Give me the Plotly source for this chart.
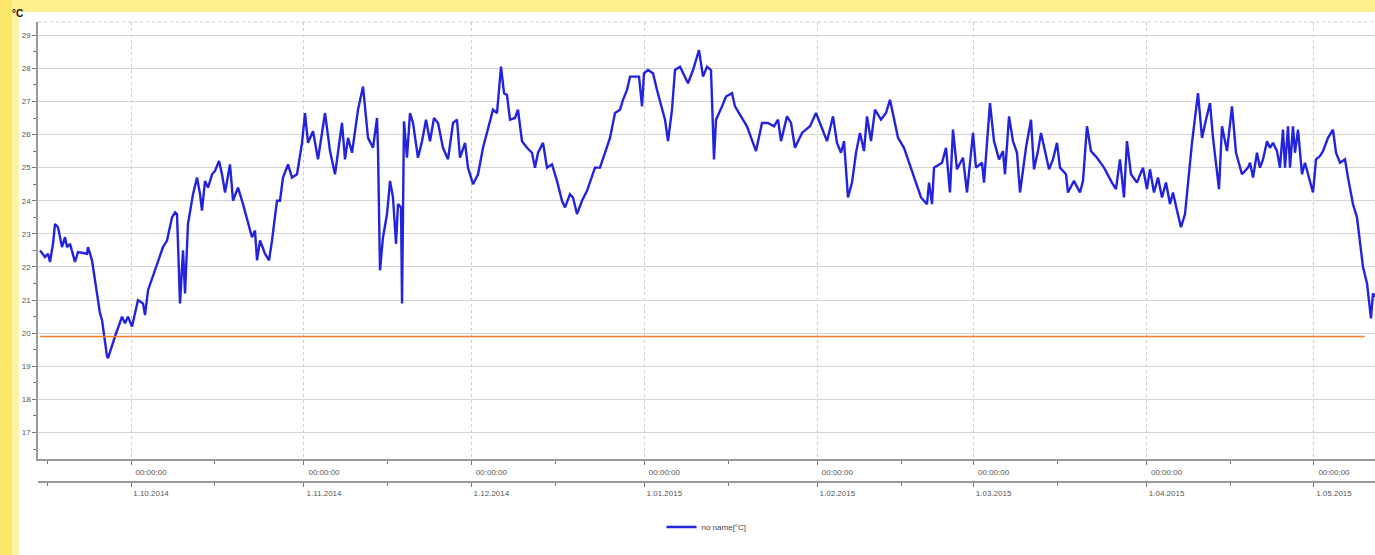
import pandas as pd
import plotly.graph_objects as go

# ---- data ----
base_date = "2014-10-01"
# elapsed days relative to 1 Oct 2014
day_offset = [
    -16.31, -15.41, -14.87, -14.52, -13.98, -13.62, -13.08, -12.37, -11.83, -11.47,
    -10.93, -10.04, -9.50, -7.89, -7.71, -6.99, -5.56, -5.20, -4.30, -4.12,
    -2.87, -1.61, -1.08, -0.54, 0.18, 1.25, 2.15, 2.51, 3.05, 4.66,
    5.73, 6.45, 7.35, 7.89, 8.24, 8.78, 9.32, 9.68, 10.21, 11.11,
    11.83, 12.37, 12.72, 13.26, 13.80, 14.52, 15.05, 15.77, 16.31, 16.85,
    17.74, 18.28, 19.18, 20.07, 20.97, 21.68, 22.22, 22.58, 23.12, 24.01,
    24.73, 25.27, 26.16, 26.70, 27.24, 28.14, 28.85, 29.75, 30.65, 31.18,
    31.72, 32.62, 33.51, 34.23, 34.77, 35.66, 36.56, 37.81, 38.35, 38.89,
    39.61, 40.68, 41.58, 42.47, 43.37, 44.09, 44.27, 44.62, 45.16, 45.88,
    46.42, 46.95, 47.49, 47.85, 48.39, 48.57, 48.92, 49.46, 50.00, 50.54,
    51.43, 52.15, 52.87, 53.58, 54.30, 55.02, 55.91, 56.81, 57.71, 58.42,
    58.96, 59.86, 60.39, 61.29, 62.19, 63.08, 63.98, 64.87, 65.59, 66.31,
    66.85, 67.38, 67.92, 68.82, 69.35, 70.07, 70.97, 71.86, 72.40, 72.94,
    73.84, 74.55, 75.45, 76.34, 77.24, 77.78, 78.67, 79.21, 79.93, 80.82,
    81.72, 83.15, 84.05, 84.95, 85.84, 86.74, 87.63, 88.17, 88.89, 89.43,
    90.32, 91.04, 91.58, 91.93, 92.65, 93.55, 94.26, 95.16, 95.70, 96.24,
    96.95, 97.49, 98.39, 99.82, 100.72, 101.79, 102.51, 103.23, 103.94, 104.48,
    104.84, 105.91, 106.63, 107.71, 108.24, 109.32, 110.39, 111.47, 112.01, 113.08,
    114.16, 115.23, 115.95, 116.49, 117.56, 118.28, 118.99, 120.25, 121.68, 122.76,
    123.66, 124.73, 125.81, 126.52, 127.24, 127.78, 128.49, 129.21, 129.93, 130.64,
    131.36, 131.90, 132.62, 133.33, 134.41, 135.30, 136.02, 136.74, 137.46, 138.53,
    139.43, 140.50, 141.58, 142.65, 143.01, 143.55, 143.91, 145.34, 146.06, 146.77,
    147.31, 148.03, 149.10, 149.82, 150.90, 151.43, 152.51, 152.87, 153.94, 154.66,
    155.56, 156.27, 156.63, 157.35, 158.06, 158.78, 159.32, 160.39, 161.29, 161.83,
    162.54, 163.08, 163.80, 164.52, 165.23, 165.95, 166.49, 167.56, 167.92, 168.99,
    170.07, 170.61, 171.32, 172.04, 173.12, 174.37, 175.80, 176.52, 177.24, 177.95,
    178.49, 179.21, 180.28, 181.36, 182.07, 182.61, 183.33, 184.05, 184.77, 185.48,
    186.20, 186.74, 187.46, 188.17, 188.89, 189.61, 190.14, 191.22, 191.94, 192.65,
    193.37, 193.91, 194.98, 195.52, 196.42, 197.31, 198.03, 199.10, 200.18, 200.54,
    201.08, 201.79, 202.33, 202.87, 203.59, 204.12, 204.66, 205.38, 205.91, 206.45,
    206.81, 207.35, 207.71, 208.24, 208.60, 209.14, 209.86, 210.39, 210.93, 211.83,
    212.37, 213.08, 213.62, 214.52, 215.41, 215.95, 216.67, 217.56, 218.10, 218.99,
    219.71, 220.25, 220.79, 221.51, 221.68, 222.22, 222.58, 222.94,
]
temperature = [
    22.5, 22.3, 22.4, 22.15, 22.7, 23.3, 23.2, 22.6, 22.9, 22.6,
    22.7, 22.15, 22.45, 22.4, 22.6, 22.2, 20.6, 20.4, 19.3, 19.25,
    19.9, 20.5, 20.3, 20.5, 20.2, 21.0, 20.9, 20.55, 21.3, 22.05,
    22.6, 22.8, 23.5, 23.65, 23.6, 20.9, 22.5, 21.2, 23.3, 24.2,
    24.7, 24.2, 23.7, 24.6, 24.4, 24.8, 24.9, 25.2, 24.8, 24.25,
    25.1, 24.0, 24.4, 23.9, 23.3, 22.9, 23.1, 22.2, 22.8, 22.4,
    22.2, 22.8, 24.0, 24.0, 24.7, 25.1, 24.7, 24.8, 25.75, 26.65,
    25.75, 26.1, 25.25, 26.0, 26.65, 25.5, 24.8, 26.35, 25.25, 25.9,
    25.45, 26.75, 27.45, 25.9, 25.6, 26.5, 25.5, 21.9, 22.9, 23.6,
    24.6, 24.1, 22.7, 23.9, 23.8, 20.9, 26.4, 25.3, 26.65, 26.35,
    25.3, 25.8, 26.45, 25.8, 26.5, 26.35, 25.6, 25.25, 26.35, 26.45,
    25.3, 25.75, 25.0, 24.5, 24.8, 25.6, 26.2, 26.75, 26.65, 28.05,
    27.25, 27.2, 26.45, 26.5, 26.75, 25.8, 25.6, 25.45, 25.0, 25.45,
    25.75, 25.0, 25.1, 24.6, 24.0, 23.8, 24.2, 24.1, 23.6, 24.0,
    24.3, 25.0, 25.0, 25.45, 25.9, 26.65, 26.75, 27.05, 27.35, 27.75,
    27.75, 27.75, 26.85, 27.85, 27.95, 27.85, 27.35, 26.75, 26.45, 25.8,
    26.75, 27.95, 28.05, 27.55, 27.95, 28.55, 27.75, 28.05, 27.95, 25.25,
    26.45, 26.85, 27.15, 27.25, 26.85, 26.55, 26.25, 25.75, 25.5, 26.35,
    26.35, 26.25, 26.45, 25.8, 26.55, 26.35, 25.6, 26.05, 26.25, 26.65,
    26.25, 25.8, 26.55, 25.75, 25.45, 25.8, 24.1, 24.55, 25.45, 26.05,
    25.5, 26.55, 25.8, 26.75, 26.45, 26.65, 27.05, 26.45, 25.9, 25.6,
    25.15, 24.6, 24.1, 23.9, 24.55, 23.9, 25.0, 25.15, 25.6, 24.25,
    26.15, 24.95, 25.3, 24.25, 26.05, 25.0, 25.15, 24.55, 26.95, 25.8,
    25.25, 25.5, 24.8, 26.55, 25.8, 25.45, 24.25, 25.6, 26.45, 24.95,
    25.5, 26.05, 25.5, 24.95, 25.25, 25.75, 25.0, 24.8, 24.25, 24.6,
    24.25, 24.6, 26.25, 25.5, 25.3, 25.0, 24.55, 24.35, 25.25, 24.1,
    25.8, 24.8, 24.55, 25.0, 24.35, 24.95, 24.25, 24.7, 24.1, 24.55,
    23.9, 24.25, 23.7, 23.2, 23.6, 24.8, 25.75, 27.25, 25.9, 26.45,
    26.95, 25.9, 24.35, 26.25, 25.5, 26.85, 25.45, 24.8, 25.0, 25.15,
    24.7, 25.45, 25.0, 25.25, 25.8, 25.6, 25.75, 25.5, 25.0, 26.15,
    25.0, 26.25, 25.0, 26.25, 25.45, 26.15, 24.8, 25.15, 24.8, 24.25,
    25.25, 25.35, 25.5, 25.9, 26.15, 25.45, 25.15, 25.25, 24.7, 23.9,
    23.5, 22.7, 22.0, 21.5, 21.2, 20.45, 21.2, 21.1,
]
threshold_value = 19.9
threshold_span = [-16.3, 221.1]  # elapsed days covered by the limit line

tick_dates = ["2014-10-01", "2014-11-01", "2014-12-01", "2015-01-01",
              "2015-02-01", "2015-03-01", "2015-04-01", "2015-05-01"]
time_labels = ["00:00:00"] * len(tick_dates)
date_labels = ["1.10.2014", "1.11.2014", "1.12.2014", "1.01.2015",
               "1.02.2015", "1.03.2015", "1.04.2015", "1.05.2015"]
y_ticks = list(range(17, 30))
series_name = "no name[°C]"
unit_label = "°C"

# ---- build ----
b = pd.Timestamp(base_date)
x_dates = [b + pd.Timedelta(days=d) for d in day_offset]
thr_dates = [b + pd.Timedelta(days=d) for d in threshold_span]
x_range = [b + pd.Timedelta(days=-16.67), b + pd.Timedelta(days=222.94)]

font_family = "Liberation Sans, Arial, sans-serif"
tick_font = dict(family=font_family, size=8, color="#555555")

fig = go.Figure()
fig.add_trace(go.Scatter(
    x=x_dates, y=temperature, mode="lines", name=series_name,
    line=dict(color="#2323dc", width=2.4), xaxis="x", yaxis="y",
))
fig.add_trace(go.Scatter(
    x=thr_dates, y=[threshold_value] * 2, mode="lines", showlegend=False,
    line=dict(color="#ff7a1e", width=1.6), xaxis="x2", yaxis="y",
    hoverinfo="skip",
))

W, H = 1375, 555
ml, mr, mt, mb = 38, 0, 22, 73
ph = H - mt - mb

def px2x(px):
    return (px - ml) / (W - ml - mr)

def py2y(py):
    return (H - mb - py) / ph

y_dom_bottom = py2y(459)

fig.update_layout(
    width=W, height=H,
    margin=dict(l=ml, r=mr, t=mt, b=mb, pad=0),
    paper_bgcolor="white", plot_bgcolor="white",
    showlegend=True,
    legend=dict(orientation="h", x=0.5, xanchor="center", y=py2y(527), yanchor="middle",
                font=dict(family=font_family, size=8, color="#444444"),
                bgcolor="rgba(0,0,0,0)", itemwidth=30),
    xaxis=dict(
        type="date", range=x_range, anchor="y",
        tickmode="array", tickvals=tick_dates, ticktext=time_labels,
        ticks="outside", ticklen=4, tickcolor="#777777", tickwidth=1,
        tickfont=tick_font, ticklabelshift=20,
        showline=True, linecolor="#999999", linewidth=2,
        showgrid=True, gridcolor="#cccccc", griddash="dot", gridwidth=1,
        zeroline=False,
        minor=dict(ticks="outside", ticklen=3, tickcolor="#777777",
                   dtick="M1", tick0="2014-09-16", showgrid=False),
    ),
    xaxis2=dict(
        type="date", range=x_range, overlaying="x", anchor="free", position=0,
        side="bottom",
        tickmode="array", tickvals=tick_dates, ticktext=date_labels,
        ticks="outside", ticklen=4, tickcolor="#777777", tickwidth=1,
        tickfont=tick_font, ticklabelshift=20,
        showline=True, linecolor="#999999", linewidth=1.5,
        showgrid=False, zeroline=False,
        minor=dict(ticks="outside", ticklen=3, tickcolor="#777777",
                   dtick="M1", tick0="2014-09-16", showgrid=False),
    ),
    yaxis=dict(
        range=[16.2, 29.4], domain=[y_dom_bottom, 1],
        tickmode="array", tickvals=y_ticks,
        ticks="outside", ticklen=4, tickcolor="#777777",
        tickfont=tick_font,
        showline=True, linecolor="#999999", linewidth=1.5,
        showgrid=True, gridcolor="#d4d4d4", gridwidth=1,
        zeroline=False,
        minor=dict(ticks="outside", ticklen=3, tickcolor="#777777", dtick=0.5,
                   showgrid=False),
    ),
)

# decorative frame: yellow band on top and strip on the left, dotted top border
shapes = [
    dict(type="rect", xref="paper", yref="paper", x0=px2x(0), x1=px2x(W), y0=py2y(12), y1=py2y(0),
         fillcolor="#fdf08c", line=dict(width=0), layer="below"),
    dict(type="rect", xref="paper", yref="paper", x0=px2x(0), x1=px2x(12), y0=py2y(H), y1=py2y(0),
         fillcolor="#fbe86a", line=dict(width=0), layer="below"),
    dict(type="rect", xref="paper", yref="paper", x0=px2x(12), x1=px2x(19), y0=py2y(H), y1=py2y(12),
         fillcolor="#fdf3a8", line=dict(width=0), layer="below"),
    dict(type="line", xref="paper", yref="paper", x0=0, x1=1, y0=1, y1=1,
         line=dict(color="#cccccc", width=1, dash="dot")),
]
fig.update_layout(shapes=shapes)

fig.add_annotation(
    text="<b>" + unit_label + "</b>", xref="paper", yref="paper",
    x=px2x(10), y=py2y(13), xanchor="left", yanchor="middle", showarrow=False,
    font=dict(family=font_family, size=10, color="#111111"),
)

fig.write_html("out.html", config={"displayModeBar": False},
               post_script="document.body.style.margin='0';document.body.style.overflow='hidden';")
